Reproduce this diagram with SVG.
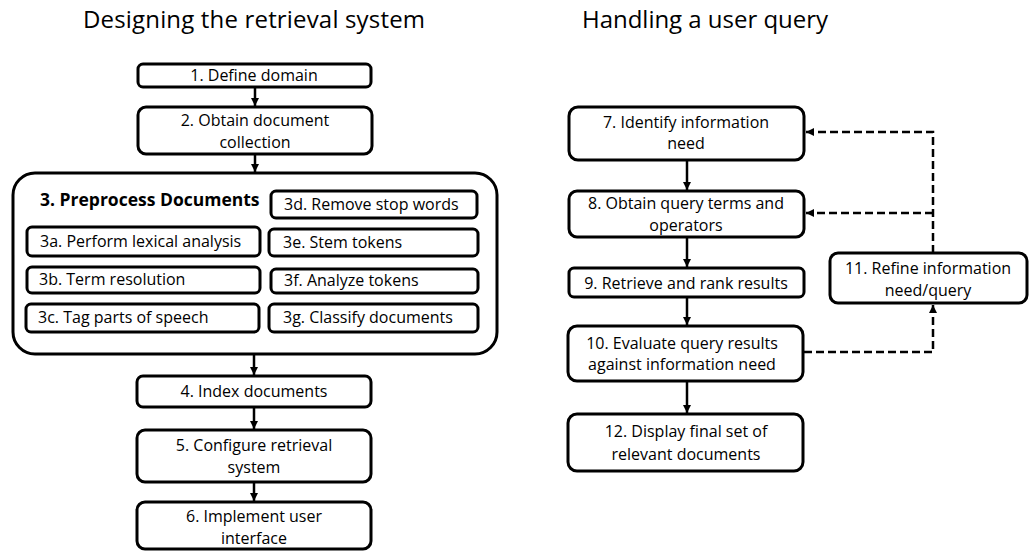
<svg xmlns="http://www.w3.org/2000/svg" width="1029" height="552" viewBox="0 0 1029 552">
<style>
.box{fill:#fff;stroke:#000;stroke-width:3}
.t{font-family:"Open Sans","Liberation Sans",sans-serif;font-size:16px;fill:#000}
.m{text-anchor:middle}
.title{font-family:"Open Sans","Liberation Sans",sans-serif;font-size:24px;fill:#000}
.b{font-weight:bold;font-size:17.5px}
.c{fill:none;stroke:#000;stroke-width:2.5}
.d{stroke-dasharray:8 4}
</style>
<defs>
<marker id="ah" markerUnits="userSpaceOnUse" markerWidth="10" markerHeight="10" refX="8" refY="4" orient="auto">
<path d="M0,0 L8,4 L0,8 z" fill="#000"/>
</marker>
</defs>
<rect width="1029" height="552" fill="#fff"/>
<text class="title" x="83" y="28" textLength="342" lengthAdjust="spacing">Designing the retrieval system</text>
<text class="title" x="582" y="28" textLength="246" lengthAdjust="spacing">Handling a user query</text>

<g id="connectors">
<line class="c" x1="255" y1="87" x2="255" y2="106" marker-end="url(#ah)"/>
<line class="c" x1="255" y1="154" x2="255" y2="172" marker-end="url(#ah)"/>
<line class="c" x1="254" y1="354" x2="254" y2="375" marker-end="url(#ah)"/>
<line class="c" x1="254" y1="407" x2="254" y2="429" marker-end="url(#ah)"/>
<line class="c" x1="254" y1="482" x2="254" y2="501" marker-end="url(#ah)"/>
<line class="c" x1="687" y1="160" x2="687" y2="190" marker-end="url(#ah)"/>
<line class="c" x1="687" y1="237" x2="687" y2="267" marker-end="url(#ah)"/>
<line class="c" x1="687" y1="297" x2="687" y2="325" marker-end="url(#ah)"/>
<line class="c" x1="687" y1="381" x2="687" y2="413" marker-end="url(#ah)"/>
<path class="c d" d="M804,352 H933 V305" marker-end="url(#ah)"/>
<path class="c d" d="M933,253 V132 H806" marker-end="url(#ah)"/>
<path class="c d" d="M933,213 H806" marker-end="url(#ah)"/>
</g>

<g id="n1"><rect class="box" x="138" y="64" width="233" height="23" rx="5"/><text class="t m" x="254" y="81">1. Define domain</text></g>
<g id="n2"><rect class="box" x="138" y="107" width="234" height="47" rx="8"/><text class="t m" x="255" y="126">2. Obtain document</text><text class="t m" x="255" y="148">collection</text></g>
<g id="n3"><rect class="box" x="13" y="173" width="484" height="181" rx="22"/><text class="t b" x="40" y="206">3. Preprocess Documents</text></g>
<g id="n3d"><rect class="box" x="271" y="191" width="206" height="27" rx="5"/><text class="t" x="284" y="210">3d. Remove stop words</text></g>
<g id="n3a"><rect class="box" x="27" y="227" width="233" height="29" rx="5"/><text class="t" x="40" y="247">3a. Perform lexical analysis</text></g>
<g id="n3e"><rect class="box" x="269" y="229" width="209" height="27" rx="5"/><text class="t" x="283" y="248">3e. Stem tokens</text></g>
<g id="n3b"><rect class="box" x="27" y="267" width="233" height="26" rx="5"/><text class="t" x="39" y="285">3b. Term resolution</text></g>
<g id="n3f"><rect class="box" x="271" y="269" width="207" height="24" rx="5"/><text class="t" x="284" y="286">3f. Analyze tokens</text></g>
<g id="n3c"><rect class="box" x="26" y="304" width="233" height="28" rx="5"/><text class="t" x="38" y="323">3c. Tag parts of speech</text></g>
<g id="n3g"><rect class="box" x="269" y="304" width="209" height="28" rx="5"/><text class="t" x="283" y="323">3g. Classify documents</text></g>
<g id="n4"><rect class="box" x="137" y="376" width="234" height="31" rx="6"/><text class="t m" x="254" y="397">4. Index documents</text></g>
<g id="n5"><rect class="box" x="137" y="430" width="234" height="52" rx="8"/><text class="t m" x="254" y="451">5. Configure retrieval</text><text class="t m" x="254" y="473">system</text></g>
<g id="n6"><rect class="box" x="137" y="502" width="234" height="47" rx="8"/><text class="t m" x="254" y="522">6. Implement user</text><text class="t m" x="254" y="544">interface</text></g>

<g id="n7"><rect class="box" x="569" y="107" width="235" height="53" rx="9"/><text class="t m" x="686" y="128">7. Identify information</text><text class="t m" x="686" y="149">need</text></g>
<g id="n8"><rect class="box" x="569" y="191" width="235" height="46" rx="8"/><text class="t m" x="686" y="209">8. Obtain query terms and</text><text class="t m" x="686" y="231">operators</text></g>
<g id="n9"><rect class="box" x="569" y="268" width="235" height="29" rx="5"/><text class="t m" x="686" y="289">9. Retrieve and rank results</text></g>
<g id="n10"><rect class="box" x="568" y="326" width="235" height="55" rx="9"/><text class="t m" x="682" y="349">10. Evaluate query results</text><text class="t m" x="682" y="370">against information need</text></g>
<g id="n11"><rect class="box" x="830" y="253" width="197" height="50" rx="8"/><text class="t m" x="928" y="274">11. Refine information</text><text class="t m" x="928" y="296">need/query</text></g>
<g id="n12"><rect class="box" x="568" y="414" width="235" height="57" rx="9"/><text class="t m" x="686" y="437">12. Display final set of</text><text class="t m" x="686" y="460">relevant documents</text></g>
</svg>
